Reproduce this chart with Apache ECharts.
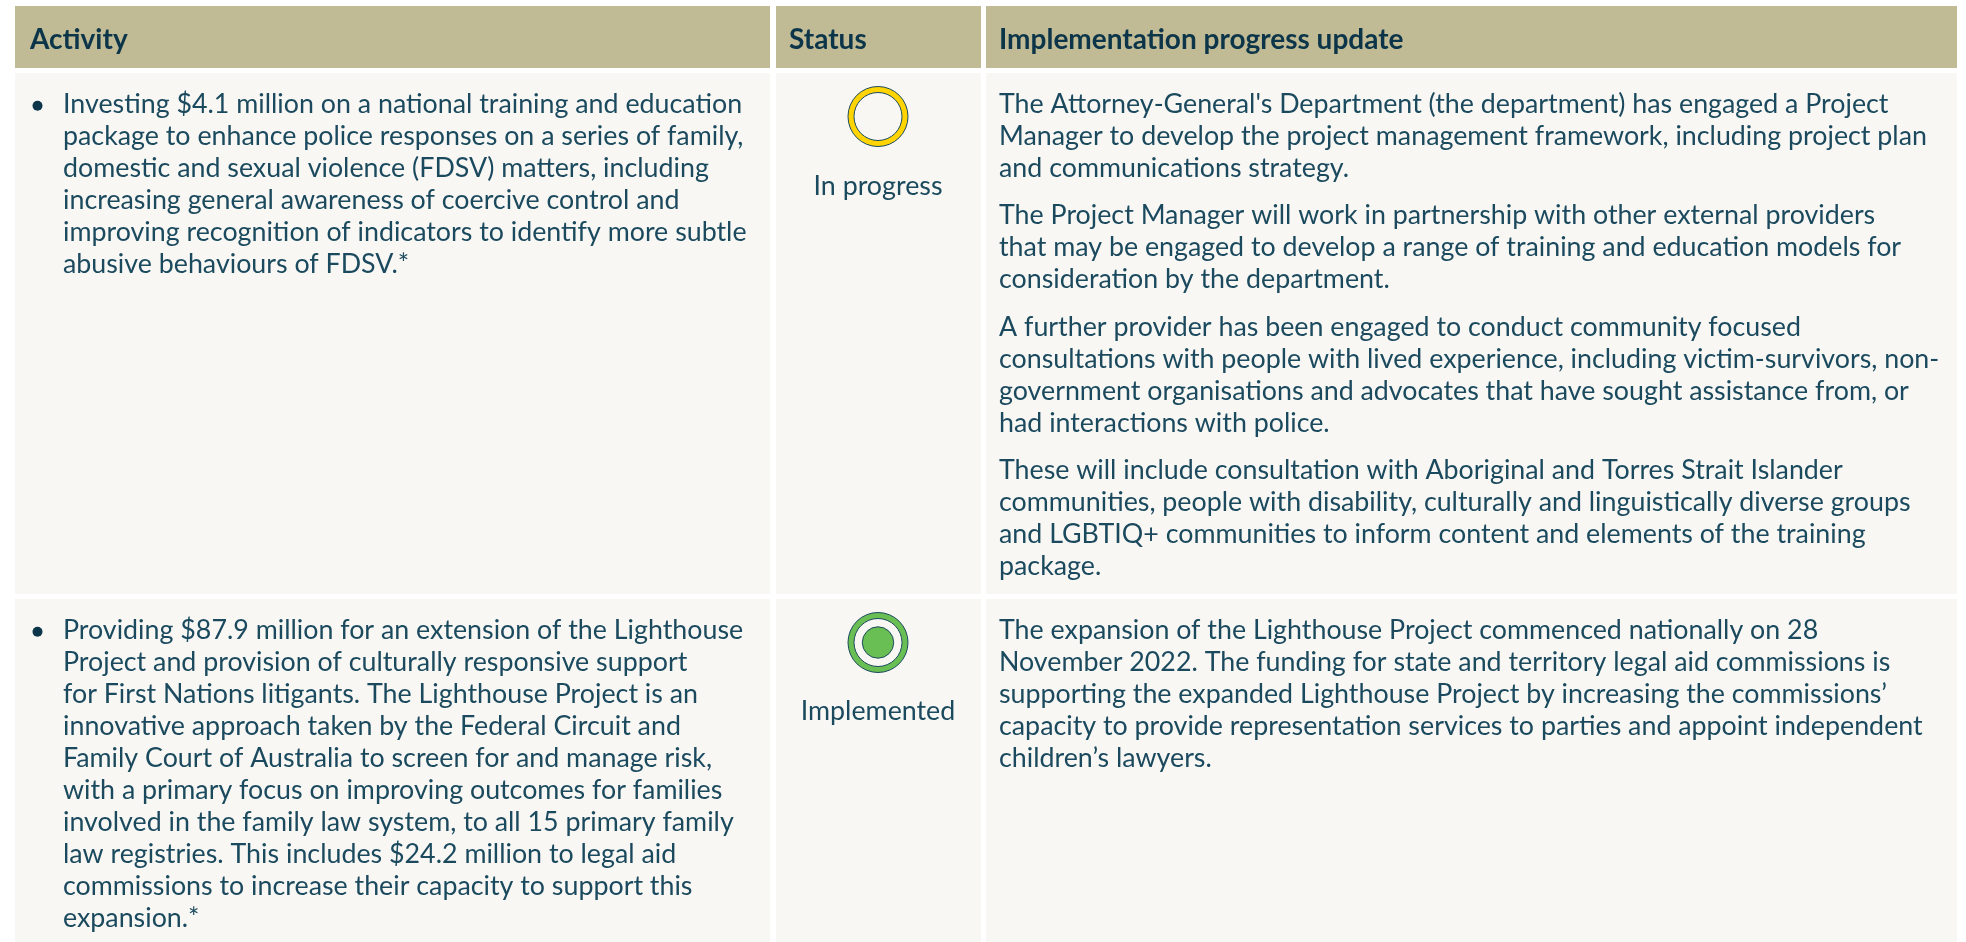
<!DOCTYPE html>
<html lang="en">
<head>
<meta charset="UTF-8">
<title>Implementation progress</title>
<style>
  html, body { margin: 0; padding: 0; background: #fff; }
  #main { width: 1966px; height: 942px; }
</style>
</head>
<body>
<div id="main"></div>
<script src="https://cdn.jsdelivr.net/npm/echarts@6/dist/echarts.min.js"></script>
<script>
var headers = ['Activity', 'Status', 'Implementation progress update'];
var statuses = ['In progress', 'Implemented'];
var activities = [
  ['Investing $4.1 million on a national training and education',
   'package to enhance police responses on a series of family,',
   'domestic and sexual violence (FDSV) matters, including',
   'increasing general awareness of coercive control and',
   'improving recognition of indicators to identify more subtle',
   'abusive behaviours of FDSV.*'],
  ['Providing $87.9 million for an extension of the Lighthouse',
   'Project and provision of culturally responsive support',
   'for First Nations litigants. The Lighthouse Project is an',
   'innovative approach taken by the Federal Circuit and',
   'Family Court of Australia to screen for and manage risk,',
   'with a primary focus on improving outcomes for families',
   'involved in the family law system, to all 15 primary family',
   'law registries. This includes $24.2 million to legal aid',
   'commissions to increase their capacity to support this',
   'expansion.*']
];
var updates = [
  [["The Attorney-General's Department (the department) has engaged a Project",
    'Manager to develop the project management framework, including project plan',
    'and communications strategy.'],
   ['The Project Manager will work in partnership with other external providers',
    'that may be engaged to develop a range of training and education models for',
    'consideration by the department.'],
   ['A further provider has been engaged to conduct community focused',
    'consultations with people with lived experience, including victim-survivors, non-',
    'government organisations and advocates that have sought assistance from, or',
    'had interactions with police.'],
   ['These will include consultation with Aboriginal and Torres Strait Islander',
    'communities, people with disability, culturally and linguistically diverse groups',
    'and LGBTIQ+ communities to inform content and elements of the training',
    'package.']],
  [['The expansion of the Lighthouse Project commenced nationally on 28',
    'November 2022. The funding for state and territory legal aid commissions is',
    'supporting the expanded Lighthouse Project by increasing the commissions\u2019',
    'capacity to provide representation services to parties and appoint independent',
    'children\u2019s lawyers.']]
];

var colLeft = [15, 776, 986];
var colRight = [770, 981, 1957];
var rowTop = [6, 73, 599];
var rowBottom = [68, 594, 942];
var headPad = [15, 13, 13];
var labelOffset = [0, 113.5, 112.5];
var FONT = 'Lato';
var INK = '#1b4a5e';
var DARK = '#0c3549';
var CELL = '#f8f7f4';
var LINE = 32;
var PARA_GAP = 15.5;

var cells = [];
for (var r = 0; r < 3; r++) {
  for (var c = 0; c < 3; c++) cells.push([c, r]);
}

function txt(api, s, x, y, opt) {
  var p = api.coord([x, y]);
  opt = opt || {};
  return {
    type: 'text',
    x: p[0],
    y: p[1],
    style: {
      text: s,
      fontFamily: FONT,
      fontSize: opt.size || 26.8,
      fontWeight: opt.weight || 400,
      fill: opt.fill || INK,
      align: opt.align || 'left',
      verticalAlign: 'middle'
    }
  };
}

function ring(api, cx, cy, rad, fill) {
  var p = api.coord([cx, cy]);
  return {
    type: 'circle',
    shape: { cx: p[0], cy: p[1], r: rad },
    style: { fill: fill, stroke: INK, lineWidth: 1 }
  };
}

function renderCell(params, api) {
  var c = api.value(0), r = api.value(1);
  var a = api.coord([colLeft[c], rowTop[r]]);
  var b = api.coord([colRight[c], rowBottom[r]]);
  var kids = [{
    type: 'rect',
    shape: { x: a[0], y: a[1], width: b[0] - a[0], height: b[1] - a[1] },
    style: { fill: r === 0 ? '#c0bb95' : CELL }
  }];
  var y = rowTop[r];
  if (r === 0) {
    kids.push(txt(api, headers[c], colLeft[c] + headPad[c], 39.5, { size: 28, weight: 700, fill: DARK }));
  } else if (c === 0) {
    y = rowTop[r] + 31;
    var dot = api.coord([colLeft[0] + 22.5, y + 1.7]);
    kids.push({ type: 'circle', shape: { cx: dot[0], cy: dot[1], r: 5 }, style: { fill: DARK } });
    activities[r - 1].forEach(function (l, i) {
      kids.push(txt(api, l, 63, y + i * LINE));
    });
  } else if (c === 1) {
    var cx = 878, cy = rowTop[r] + 43.5;
    kids.push(ring(api, cx, cy, 30, r === 1 ? '#ffd400' : '#6abf54'));
    kids.push(ring(api, cx, cy, 24, CELL));
    if (r === 2) kids.push(ring(api, cx, cy, 15.7, '#6abf54'));
    kids.push(txt(api, statuses[r - 1], cx, rowTop[r] + labelOffset[r], { align: 'center' }));
  } else {
    y = rowTop[r] + 31;
    updates[r - 1].forEach(function (para) {
      para.forEach(function (l) {
        kids.push(txt(api, l, 999, y));
        y += LINE;
      });
      y += PARA_GAP;
    });
  }
  return { type: 'group', children: kids };
}

var myChart = echarts.init(document.getElementById('main'));
myChart.setOption({
  animation: false,
  backgroundColor: '#ffffff',
  grid: { left: 0, right: 0, top: 0, bottom: 0 },
  xAxis: { type: 'value', min: 0, max: 1966, show: false },
  yAxis: { type: 'value', min: 0, max: 942, inverse: true, show: false },
  series: [{
    type: 'custom',
    coordinateSystem: 'cartesian2d',
    clip: false,
    silent: true,
    data: cells,
    renderItem: renderCell
  }]
});
</script>
</body>
</html>
